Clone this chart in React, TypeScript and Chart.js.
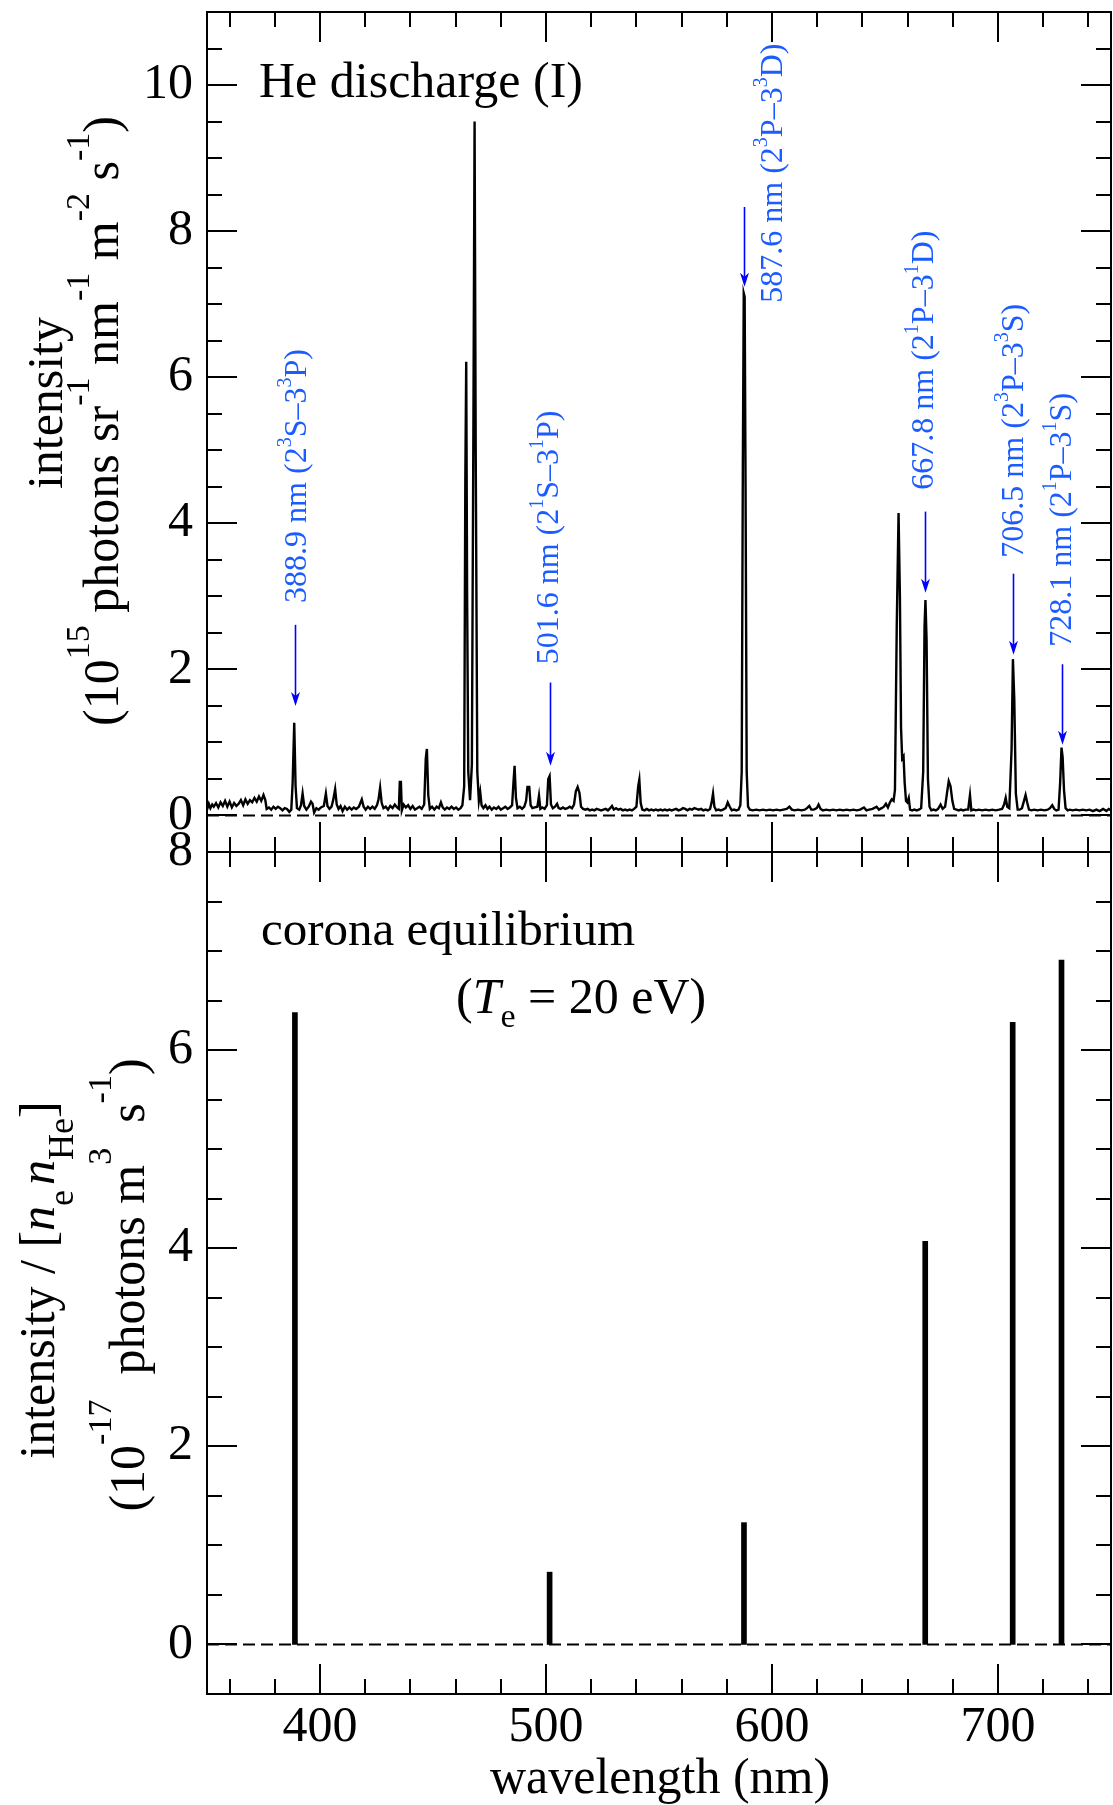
import React, { useEffect, useRef } from 'react';
import { Chart, registerables } from 'chart.js';

Chart.register(...registerables);

const FONT = '"Liberation Serif", "Times New Roman", serif';
const TEXT_BLUE = '#1a5cff';
const ARROW_BLUE = '#0000ff';

// Top panel: measured He discharge spectrum [wavelength (nm), intensity (1e15 photons sr^-1 nm^-1 m^-2 s^-1)]
const spectrumPoints: [number, number][] = [
  [350.0, 0.08], [350.8, 0.16], [351.5, 0.10], [352.3, 0.15], [353.0, 0.12], [354.0, 0.17], [355.0, 0.11],
  [356.0, 0.18], [357.0, 0.13], [358.0, 0.20], [359.0, 0.12], [360.0, 0.19], [361.0, 0.11], [362.0, 0.17],
  [363.0, 0.13], [364.0, 0.16], [365.0, 0.21], [366.0, 0.14], [367.0, 0.22], [368.0, 0.16], [369.0, 0.21],
  [370.0, 0.18], [371.0, 0.24], [372.0, 0.19], [373.0, 0.26], [374.0, 0.20], [375.0, 0.28], [375.8, 0.21],
  [376.4, 0.09], [377.4, 0.11], [378.4, 0.08], [379.4, 0.12], [380.4, 0.09], [381.4, 0.12], [382.4, 0.10],
  [383.4, 0.07], [384.4, 0.10], [385.4, 0.09], [386.4, 0.05], [387.3, 0.08], [387.9, 0.45], [388.6, 1.27],
  [389.2, 0.40], [389.8, 0.10], [390.8, 0.08], [391.6, 0.14], [392.3, 0.30], [393.0, 0.13], [394.0, 0.08],
  [395.0, 0.12], [396.0, 0.19], [396.7, 0.16], [397.4, 0.04], [398.4, 0.10], [399.4, 0.08], [400.4, 0.11],
  [401.7, 0.13], [402.6, 0.30], [403.3, 0.13], [404.2, 0.09], [405.1, 0.12], [405.9, 0.22], [406.7, 0.36],
  [407.4, 0.15], [408.2, 0.09], [409.1, 0.13], [410.0, 0.06], [411.0, 0.12], [412.0, 0.08], [413.0, 0.11],
  [414.0, 0.08], [415.0, 0.11], [416.0, 0.09], [417.2, 0.12], [418.5, 0.22], [419.3, 0.12], [420.2, 0.08],
  [421.2, 0.12], [422.2, 0.09], [423.2, 0.12], [424.2, 0.09], [425.2, 0.14], [425.9, 0.22], [426.6, 0.38],
  [427.3, 0.17], [428.1, 0.10], [429.1, 0.12], [430.1, 0.08], [431.1, 0.13], [432.1, 0.10], [433.1, 0.15],
  [434.1, 0.11], [434.9, 0.09], [435.3, 0.46], [435.8, 0.46], [436.2, 0.07], [437.0, 0.15], [438.0, 0.11],
  [439.0, 0.14], [440.0, 0.09], [441.0, 0.13], [442.0, 0.08], [443.0, 0.10], [444.0, 0.12], [445.0, 0.09],
  [446.1, 0.15], [446.8, 0.78], [447.3, 0.91], [447.9, 0.28], [448.6, 0.09], [449.6, 0.12], [450.6, 0.08],
  [451.6, 0.12], [452.6, 0.10], [453.5, 0.18], [454.3, 0.11], [455.2, 0.08], [456.2, 0.11], [457.2, 0.09],
  [458.2, 0.12], [459.2, 0.09], [460.2, 0.11], [461.2, 0.08], [462.2, 0.10], [463.0, 0.14], [463.8, 0.40],
  [464.3, 4.6], [464.7, 6.21], [465.1, 3.0], [465.6, 0.60], [466.4, 0.21], [467.2, 0.70], [467.9, 5.5],
  [468.4, 9.50], [468.9, 5.0], [469.6, 0.60], [470.3, 0.20], [470.9, 0.32], [471.5, 0.14], [472.3, 0.10],
  [473.2, 0.14], [474.1, 0.09], [475.0, 0.12], [476.0, 0.08], [477.0, 0.11], [478.0, 0.09], [479.0, 0.12],
  [480.0, 0.08], [481.0, 0.10], [482.0, 0.12], [483.0, 0.09], [484.0, 0.11], [485.0, 0.14], [485.6, 0.45],
  [486.1, 0.68], [486.7, 0.24], [487.4, 0.10], [488.4, 0.12], [489.4, 0.09], [490.4, 0.12], [491.2, 0.20],
  [491.8, 0.39], [492.6, 0.39], [493.2, 0.14], [494.0, 0.10], [495.0, 0.11], [496.2, 0.12], [496.9, 0.27],
  [497.5, 0.09], [498.4, 0.11], [499.4, 0.09], [500.4, 0.14], [501.0, 0.50], [501.6, 0.54], [502.2, 0.15],
  [503.0, 0.10], [504.0, 0.12], [504.9, 0.16], [505.6, 0.10], [506.5, 0.09], [507.5, 0.11], [508.5, 0.09],
  [509.5, 0.10], [510.5, 0.12], [511.5, 0.10], [512.4, 0.15], [513.2, 0.33], [514.0, 0.39], [514.8, 0.31],
  [515.5, 0.12], [516.4, 0.09], [517.4, 0.08], [518.4, 0.09], [519.4, 0.07], [520.4, 0.08], [521.4, 0.07],
  [522.4, 0.09], [523.4, 0.08], [524.4, 0.07], [525.4, 0.08], [526.4, 0.09], [527.4, 0.07], [528.4, 0.10],
  [529.2, 0.13], [530.0, 0.08], [531.0, 0.10], [532.0, 0.08], [533.0, 0.09], [534.0, 0.07], [535.0, 0.08],
  [536.0, 0.07], [537.0, 0.08], [538.0, 0.07], [539.0, 0.09], [540.0, 0.12], [540.8, 0.40], [541.3, 0.49],
  [541.9, 0.17], [542.6, 0.08], [543.6, 0.07], [544.6, 0.09], [545.6, 0.07], [546.6, 0.08], [547.6, 0.07],
  [548.6, 0.08], [549.6, 0.07], [550.6, 0.08], [551.6, 0.07], [552.6, 0.08], [553.6, 0.07], [554.6, 0.08],
  [555.6, 0.07], [556.6, 0.08], [557.6, 0.09], [558.6, 0.07], [559.6, 0.08], [560.6, 0.10], [561.6, 0.09],
  [562.6, 0.07], [563.6, 0.09], [564.6, 0.08], [565.6, 0.10], [566.6, 0.09], [567.6, 0.08], [568.6, 0.09],
  [569.6, 0.07], [570.6, 0.08], [571.6, 0.07], [572.6, 0.09], [573.3, 0.18], [573.9, 0.30], [574.5, 0.12],
  [575.3, 0.07], [576.3, 0.08], [577.3, 0.07], [578.3, 0.08], [579.5, 0.10], [580.4, 0.18], [581.3, 0.12],
  [582.2, 0.07], [583.2, 0.08], [584.2, 0.07], [585.2, 0.08], [586.0, 0.14], [586.6, 0.60], [587.1, 4.8],
  [587.5, 7.15], [587.9, 7.10], [588.3, 4.5], [588.8, 0.60], [589.4, 0.12], [590.2, 0.08], [591.5, 0.07],
  [593.0, 0.08], [594.5, 0.07], [596.0, 0.08], [597.5, 0.07], [599.0, 0.08], [600.5, 0.07], [602.0, 0.08],
  [603.5, 0.07], [605.0, 0.08], [606.5, 0.09], [607.7, 0.12], [608.8, 0.08], [610.0, 0.07], [611.5, 0.08],
  [613.0, 0.07], [614.5, 0.08], [615.5, 0.10], [616.5, 0.13], [617.4, 0.08], [618.5, 0.08], [619.8, 0.10],
  [620.6, 0.15], [621.5, 0.09], [622.5, 0.07], [624.0, 0.08], [625.5, 0.07], [627.0, 0.08], [628.5, 0.07],
  [630.0, 0.08], [631.5, 0.07], [633.0, 0.08], [634.5, 0.07], [636.0, 0.08], [637.5, 0.07], [639.0, 0.08],
  [640.7, 0.11], [641.8, 0.07], [643.0, 0.08], [644.5, 0.09], [646.3, 0.12], [647.3, 0.08], [648.5, 0.10],
  [649.5, 0.12], [650.4, 0.16], [651.3, 0.11], [652.2, 0.18], [653.0, 0.22], [653.8, 0.20], [654.4, 0.35],
  [655.2, 2.6], [656.0, 4.14], [656.6, 3.0], [657.1, 1.2], [657.6, 0.78], [658.2, 0.81], [658.7, 0.45],
  [659.3, 0.20], [659.9, 0.18], [660.5, 0.24], [661.1, 0.08], [662.0, 0.07], [663.0, 0.08], [664.0, 0.07],
  [665.0, 0.08], [666.0, 0.10], [666.9, 0.60], [667.5, 2.6], [667.9, 2.95], [668.4, 2.4], [669.0, 0.50],
  [669.7, 0.12], [670.5, 0.07], [671.5, 0.08], [672.5, 0.07], [673.5, 0.09], [674.6, 0.15], [675.5, 0.09],
  [676.6, 0.12], [677.4, 0.30], [678.2, 0.47], [679.0, 0.40], [679.8, 0.20], [680.6, 0.09], [681.6, 0.08],
  [682.6, 0.07], [683.6, 0.08], [684.6, 0.07], [685.6, 0.08], [686.8, 0.08], [687.6, 0.28], [688.2, 0.07],
  [689.2, 0.08], [690.2, 0.07], [691.5, 0.08], [693.0, 0.07], [694.5, 0.08], [696.0, 0.07], [697.5, 0.08],
  [699.0, 0.07], [700.5, 0.08], [701.8, 0.09], [702.7, 0.15], [703.4, 0.24], [704.1, 0.12], [705.0, 0.10],
  [706.0, 0.90], [706.6, 2.14], [707.2, 1.60], [707.9, 0.30], [708.7, 0.08], [709.6, 0.08], [710.6, 0.10],
  [711.5, 0.20], [712.2, 0.28], [712.9, 0.18], [713.7, 0.08], [714.8, 0.07], [716.0, 0.08], [717.5, 0.07],
  [719.0, 0.08], [720.5, 0.07], [722.0, 0.08], [723.0, 0.10], [724.0, 0.14], [724.9, 0.09], [725.8, 0.07],
  [726.8, 0.08], [727.5, 0.45], [728.1, 0.93], [728.6, 0.80], [729.2, 0.35], [729.9, 0.10], [730.8, 0.07],
  [731.8, 0.08], [733.0, 0.07], [734.5, 0.08], [736.0, 0.07], [737.5, 0.08], [739.0, 0.07], [740.5, 0.08],
  [742.0, 0.06], [743.5, 0.08], [745.0, 0.06], [746.5, 0.09], [748.0, 0.06], [749.0, 0.09], [750.0, 0.07],
];

// Bottom panel: corona equilibrium line intensities
const coronaWavelength = [388.9, 501.6, 587.6, 667.8, 706.5, 728.1];
const coronaIntensity = [6.38, 0.73, 1.23, 4.07, 6.28, 6.91];

// Line annotations (top panel)
const annWavelength = [388.9, 501.6, 587.6, 667.8, 706.5, 728.1];
const annLabel = ['388.9', '501.6', '587.6', '667.8', '706.5', '728.1'];
const annMultiplicity = ['3', '1', '3', '1', '3', '1'];
const annLower = ['S', 'S', 'P', 'P', 'P', 'P'];
const annUpper = ['P', 'P', 'D', 'D', 'S', 'S'];
const annArrowTop = [2.61, 1.82, 8.33, 4.16, 3.31, 2.07];
const annArrowTip = [1.5, 0.68, 7.24, 3.05, 2.2, 0.97];
const annTextAt = [393.6, 505.3, 604.3, 671.4, 711.1, 732.1];
const annTextStart = [2.91, 2.07, 7.02, 4.46, 3.53, 2.31];

// Axis ticks
const xTickValues = [360, 380, 400, 420, 440, 460, 480, 500, 520, 540, 560, 580, 600, 620, 640, 660, 680, 700, 720, 740];
const topYTickValues = [0, 0.5, 1, 1.5, 2, 2.5, 3, 3.5, 4, 4.5, 5, 5.5, 6, 6.5, 7, 7.5, 8, 8.5, 9, 9.5, 10, 10.5];
const bottomYTickValues = [0, 0.5, 1, 1.5, 2, 2.5, 3, 3.5, 4, 4.5, 5, 5.5, 6, 6.5, 7, 7.5, 8];

const BOTTOM_OFFSET = 800;

type Seg = { t: string; size: number; dy?: number; italic?: boolean };

function richWidth(ctx: CanvasRenderingContext2D, segs: Seg[]) {
  let w = 0;
  for (const s of segs) {
    ctx.font = `${s.italic ? 'italic ' : ''}${s.size}px ${FONT}`;
    w += ctx.measureText(s.t).width;
  }
  return w;
}

function drawRich(
  ctx: CanvasRenderingContext2D,
  segs: Seg[],
  x: number,
  y: number,
  rotated: boolean,
  align: 'left' | 'center',
  color: string
) {
  ctx.save();
  ctx.translate(x, y);
  if (rotated) ctx.rotate(-Math.PI / 2);
  ctx.fillStyle = color;
  ctx.textBaseline = 'alphabetic';
  ctx.textAlign = 'left';
  const total = richWidth(ctx, segs);
  let cx = align === 'center' ? -total / 2 : 0;
  for (const s of segs) {
    ctx.font = `${s.italic ? 'italic ' : ''}${s.size}px ${FONT}`;
    ctx.fillText(s.t, cx, s.dy || 0);
    cx += ctx.measureText(s.t).width;
  }
  ctx.restore();
}

const frameTicksPlugin = {
  id: 'frameTicks',
  afterDraw(chart: any) {
    const { ctx, chartArea: a } = chart;
    const xs = chart.scales.x;
    const ys = chart.scales.y;
    ctx.save();
    ctx.strokeStyle = '#000';
    ctx.lineWidth = 2;
    ctx.lineCap = 'butt';
    ctx.beginPath();
    for (const v of xTickValues) {
      const px = Math.round(xs.getPixelForValue(v));
      const len = v % 100 === 0 ? 30 : 15;
      ctx.moveTo(px, a.bottom);
      ctx.lineTo(px, a.bottom - len);
      ctx.moveTo(px, a.top);
      ctx.lineTo(px, a.top + len);
    }
    const yVals: number[] = chart.options.plugins.frameTicks.yTicks;
    for (const v of yVals) {
      const py = Math.round(ys.getPixelForValue(v));
      if (py <= a.top + 1 || py >= a.bottom - 1) continue;
      const len = v % 2 === 0 ? 30 : 15;
      ctx.moveTo(a.left, py);
      ctx.lineTo(a.left + len, py);
      ctx.moveTo(a.right, py);
      ctx.lineTo(a.right - len, py);
    }
    ctx.stroke();
    ctx.strokeRect(a.left, a.top, a.right - a.left, a.bottom - a.top);
    ctx.restore();
  },
};

const topTextPlugin = {
  id: 'topText',
  afterDraw(chart: any) {
    const ctx: CanvasRenderingContext2D = chart.ctx;
    const xs = chart.scales.x;
    const ys = chart.scales.y;
    drawRich(ctx, [{ t: 'He discharge (I)', size: 50 }], 259, 97, false, 'left', '#000');
    drawRich(ctx, [{ t: 'intensity', size: 50 }], 62, 403, true, 'center', '#000');
    const sup = -29;
    drawRich(
      ctx,
      [
        { t: '(10', size: 50 },
        { t: '15', size: 34, dy: sup },
        { t: ' photons sr', size: 50 },
        { t: '-1', size: 34, dy: sup },
        { t: ' nm', size: 50 },
        { t: '-1', size: 34, dy: sup },
        { t: ' m', size: 50 },
        { t: '-2', size: 34, dy: sup },
        { t: ' s', size: 50 },
        { t: '-1', size: 34, dy: sup },
        { t: ')', size: 50 },
      ],
      118,
      421,
      true,
      'center',
      '#000'
    );
    ctx.save();
    for (let i = 0; i < annWavelength.length; i++) {
      const ax = Math.round(xs.getPixelForValue(annWavelength[i])) + 0.5;
      const yTop = ys.getPixelForValue(annArrowTop[i]);
      const yTip = ys.getPixelForValue(annArrowTip[i]);
      ctx.strokeStyle = ARROW_BLUE;
      ctx.fillStyle = ARROW_BLUE;
      ctx.lineWidth = 1.6;
      ctx.beginPath();
      ctx.moveTo(ax, yTop);
      ctx.lineTo(ax, yTip - 8);
      ctx.stroke();
      ctx.beginPath();
      ctx.moveTo(ax, yTip);
      ctx.lineTo(ax - 4.5, yTip - 14);
      ctx.lineTo(ax, yTip - 10);
      ctx.lineTo(ax + 4.5, yTip - 14);
      ctx.closePath();
      ctx.fill();

      const tx = xs.getPixelForValue(annTextAt[i]);
      const ty = ys.getPixelForValue(annTextStart[i]);
      const m = annMultiplicity[i];
      drawRich(
        ctx,
        [
          { t: `${annLabel[i]} nm (2`, size: 32 },
          { t: m, size: 20, dy: -15 },
          { t: `${annLower[i]}\u20133`, size: 32 },
          { t: m, size: 20, dy: -15 },
          { t: `${annUpper[i]})`, size: 32 },
        ],
        tx,
        ty,
        true,
        'left',
        TEXT_BLUE
      );
    }
    ctx.restore();
  },
};

const bottomTextPlugin = {
  id: 'bottomText',
  afterDraw(chart: any) {
    const ctx: CanvasRenderingContext2D = chart.ctx;
    const o = BOTTOM_OFFSET;
    drawRich(ctx, [{ t: 'corona equilibrium', size: 49 }], 261, 945 - o, false, 'left', '#000');
    drawRich(
      ctx,
      [
        { t: '(', size: 50 },
        { t: 'T', size: 50, italic: true },
        { t: 'e', size: 34, dy: 14 },
        { t: ' = 20 eV)', size: 50 },
      ],
      456,
      1013 - o,
      false,
      'left',
      '#000'
    );
    drawRich(
      ctx,
      [
        { t: 'intensity / [', size: 50 },
        { t: 'n', size: 50, italic: true },
        { t: 'e', size: 36, dy: 19 },
        { t: ' ', size: 20 },
        { t: 'n', size: 50, italic: true },
        { t: 'He', size: 36, dy: 19 },
        { t: ']', size: 50 },
      ],
      54,
      1280 - o,
      true,
      'center',
      '#000'
    );
    const sup = -33;
    drawRich(
      ctx,
      [
        { t: '(10', size: 50 },
        { t: '-17', size: 34, dy: sup },
        { t: '  photons m', size: 50 },
        { t: '3', size: 34, dy: sup },
        { t: '  s', size: 50 },
        { t: '-1', size: 34, dy: sup },
        { t: ')', size: 50 },
      ],
      144,
      1285 - o,
      true,
      'center',
      '#000'
    );
    ctx.save();
    ctx.font = `50px ${FONT}`;
    ctx.fillStyle = '#000';
    ctx.textAlign = 'center';
    ctx.textBaseline = 'alphabetic';
    ctx.fillText('wavelength (nm)', 660, 1793 - o);
    ctx.restore();
  },
};

function yScale(min: number, max: number, ticks: number[], labelEvery: number) {
  return {
    type: 'linear' as const,
    min,
    max,
    afterBuildTicks: (scale: any) => {
      scale.ticks = ticks.map((v) => ({ value: v }));
    },
    afterFit: (scale: any) => {
      scale.width = 207;
      scale.paddingTop = 0;
      scale.paddingBottom = 0;
    },
    grid: { display: false, drawTicks: false },
    border: { display: false },
    ticks: {
      autoSkip: false,
      padding: 14,
      color: '#000',
      font: { family: FONT, size: 50 },
      callback: (v: any) => (Number(v) % labelEvery === 0 ? String(v) : ''),
    },
  };
}

export default function App() {
  const topRef = useRef<HTMLCanvasElement | null>(null);
  const botRef = useRef<HTMLCanvasElement | null>(null);

  useEffect(() => {
    if (!topRef.current || !botRef.current) return;

    const top = new Chart(topRef.current, {
      type: 'line',
      data: {
        datasets: [
          {
            data: spectrumPoints.map(([x, y]) => ({ x, y })),
            borderColor: '#000',
            borderWidth: 2.4,
            pointRadius: 0,
            tension: 0,
            fill: false,
          },
          {
            data: [
              { x: 350, y: 0 },
              { x: 750, y: 0 },
            ],
            borderColor: '#000',
            borderWidth: 2,
            borderDash: [12, 6],
            pointRadius: 0,
            fill: false,
          },
        ],
      },
      options: {
        animation: false,
        responsive: false,
        maintainAspectRatio: false,
        devicePixelRatio: 1,
        layout: { padding: { left: 0, top: 12, right: 2, bottom: 0 } },
        plugins: {
          legend: { display: false },
          tooltip: { enabled: false },
          frameTicks: { yTicks: topYTickValues },
        } as any,
        scales: {
          x: {
            type: 'linear',
            min: 350,
            max: 750,
            afterBuildTicks: (scale: any) => {
              scale.ticks = xTickValues.map((v) => ({ value: v }));
            },
            afterFit: (scale: any) => {
              scale.height = 28;
              scale.paddingLeft = 0;
              scale.paddingRight = 0;
            },
            grid: { display: false, drawTicks: false },
            border: { display: false },
            ticks: { display: false },
          },
          y: yScale(-0.5, 11, topYTickValues, 2) as any,
        },
      },
      plugins: [frameTicksPlugin, topTextPlugin],
    });

    const bottom = new Chart(botRef.current, {
      type: 'bar',
      data: {
        datasets: [
          {
            type: 'bar',
            data: coronaWavelength.map((x, i) => ({ x, y: coronaIntensity[i] })),
            backgroundColor: '#000',
            borderWidth: 0,
            barThickness: 5,
          } as any,
          {
            type: 'line',
            data: [
              { x: 350, y: 0 },
              { x: 750, y: 0 },
            ],
            borderColor: '#000',
            borderWidth: 2,
            borderDash: [12, 6],
            pointRadius: 0,
            fill: false,
          } as any,
        ],
      },
      options: {
        animation: false,
        responsive: false,
        maintainAspectRatio: false,
        devicePixelRatio: 1,
        layout: { padding: { left: 0, top: 52, right: 2, bottom: 0 } },
        plugins: {
          legend: { display: false },
          tooltip: { enabled: false },
          frameTicks: { yTicks: bottomYTickValues },
        } as any,
        scales: {
          x: {
            type: 'linear',
            min: 350,
            max: 750,
            offset: false,
            afterBuildTicks: (scale: any) => {
              scale.ticks = xTickValues.map((v) => ({ value: v }));
            },
            afterFit: (scale: any) => {
              scale.height = 111;
              scale.paddingLeft = 0;
              scale.paddingRight = 0;
            },
            grid: { display: false, drawTicks: false, offset: false },
            border: { display: false },
            ticks: {
              autoSkip: false,
              maxRotation: 0,
              minRotation: 0,
              padding: 4,
              color: '#000',
              font: { family: FONT, size: 50 },
              callback: (v: any) => (Number(v) % 100 === 0 ? String(v) : ''),
            },
          },
          y: yScale(-0.5, 8, bottomYTickValues, 2) as any,
        },
      },
      plugins: [frameTicksPlugin, bottomTextPlugin],
    });

    return () => {
      top.destroy();
      bottom.destroy();
    };
  }, []);

  return (
    <div style={{ position: 'absolute', left: 0, top: 0, width: 1113, height: 1805, background: '#fff', overflow: 'hidden' }}>
      <canvas ref={topRef} width={1113} height={880} style={{ position: 'absolute', left: 0, top: 0, width: 1113, height: 880 }} />
      <canvas
        ref={botRef}
        width={1113}
        height={1005}
        style={{ position: 'absolute', left: 0, top: BOTTOM_OFFSET, width: 1113, height: 1005 }}
      />
    </div>
  );
}
